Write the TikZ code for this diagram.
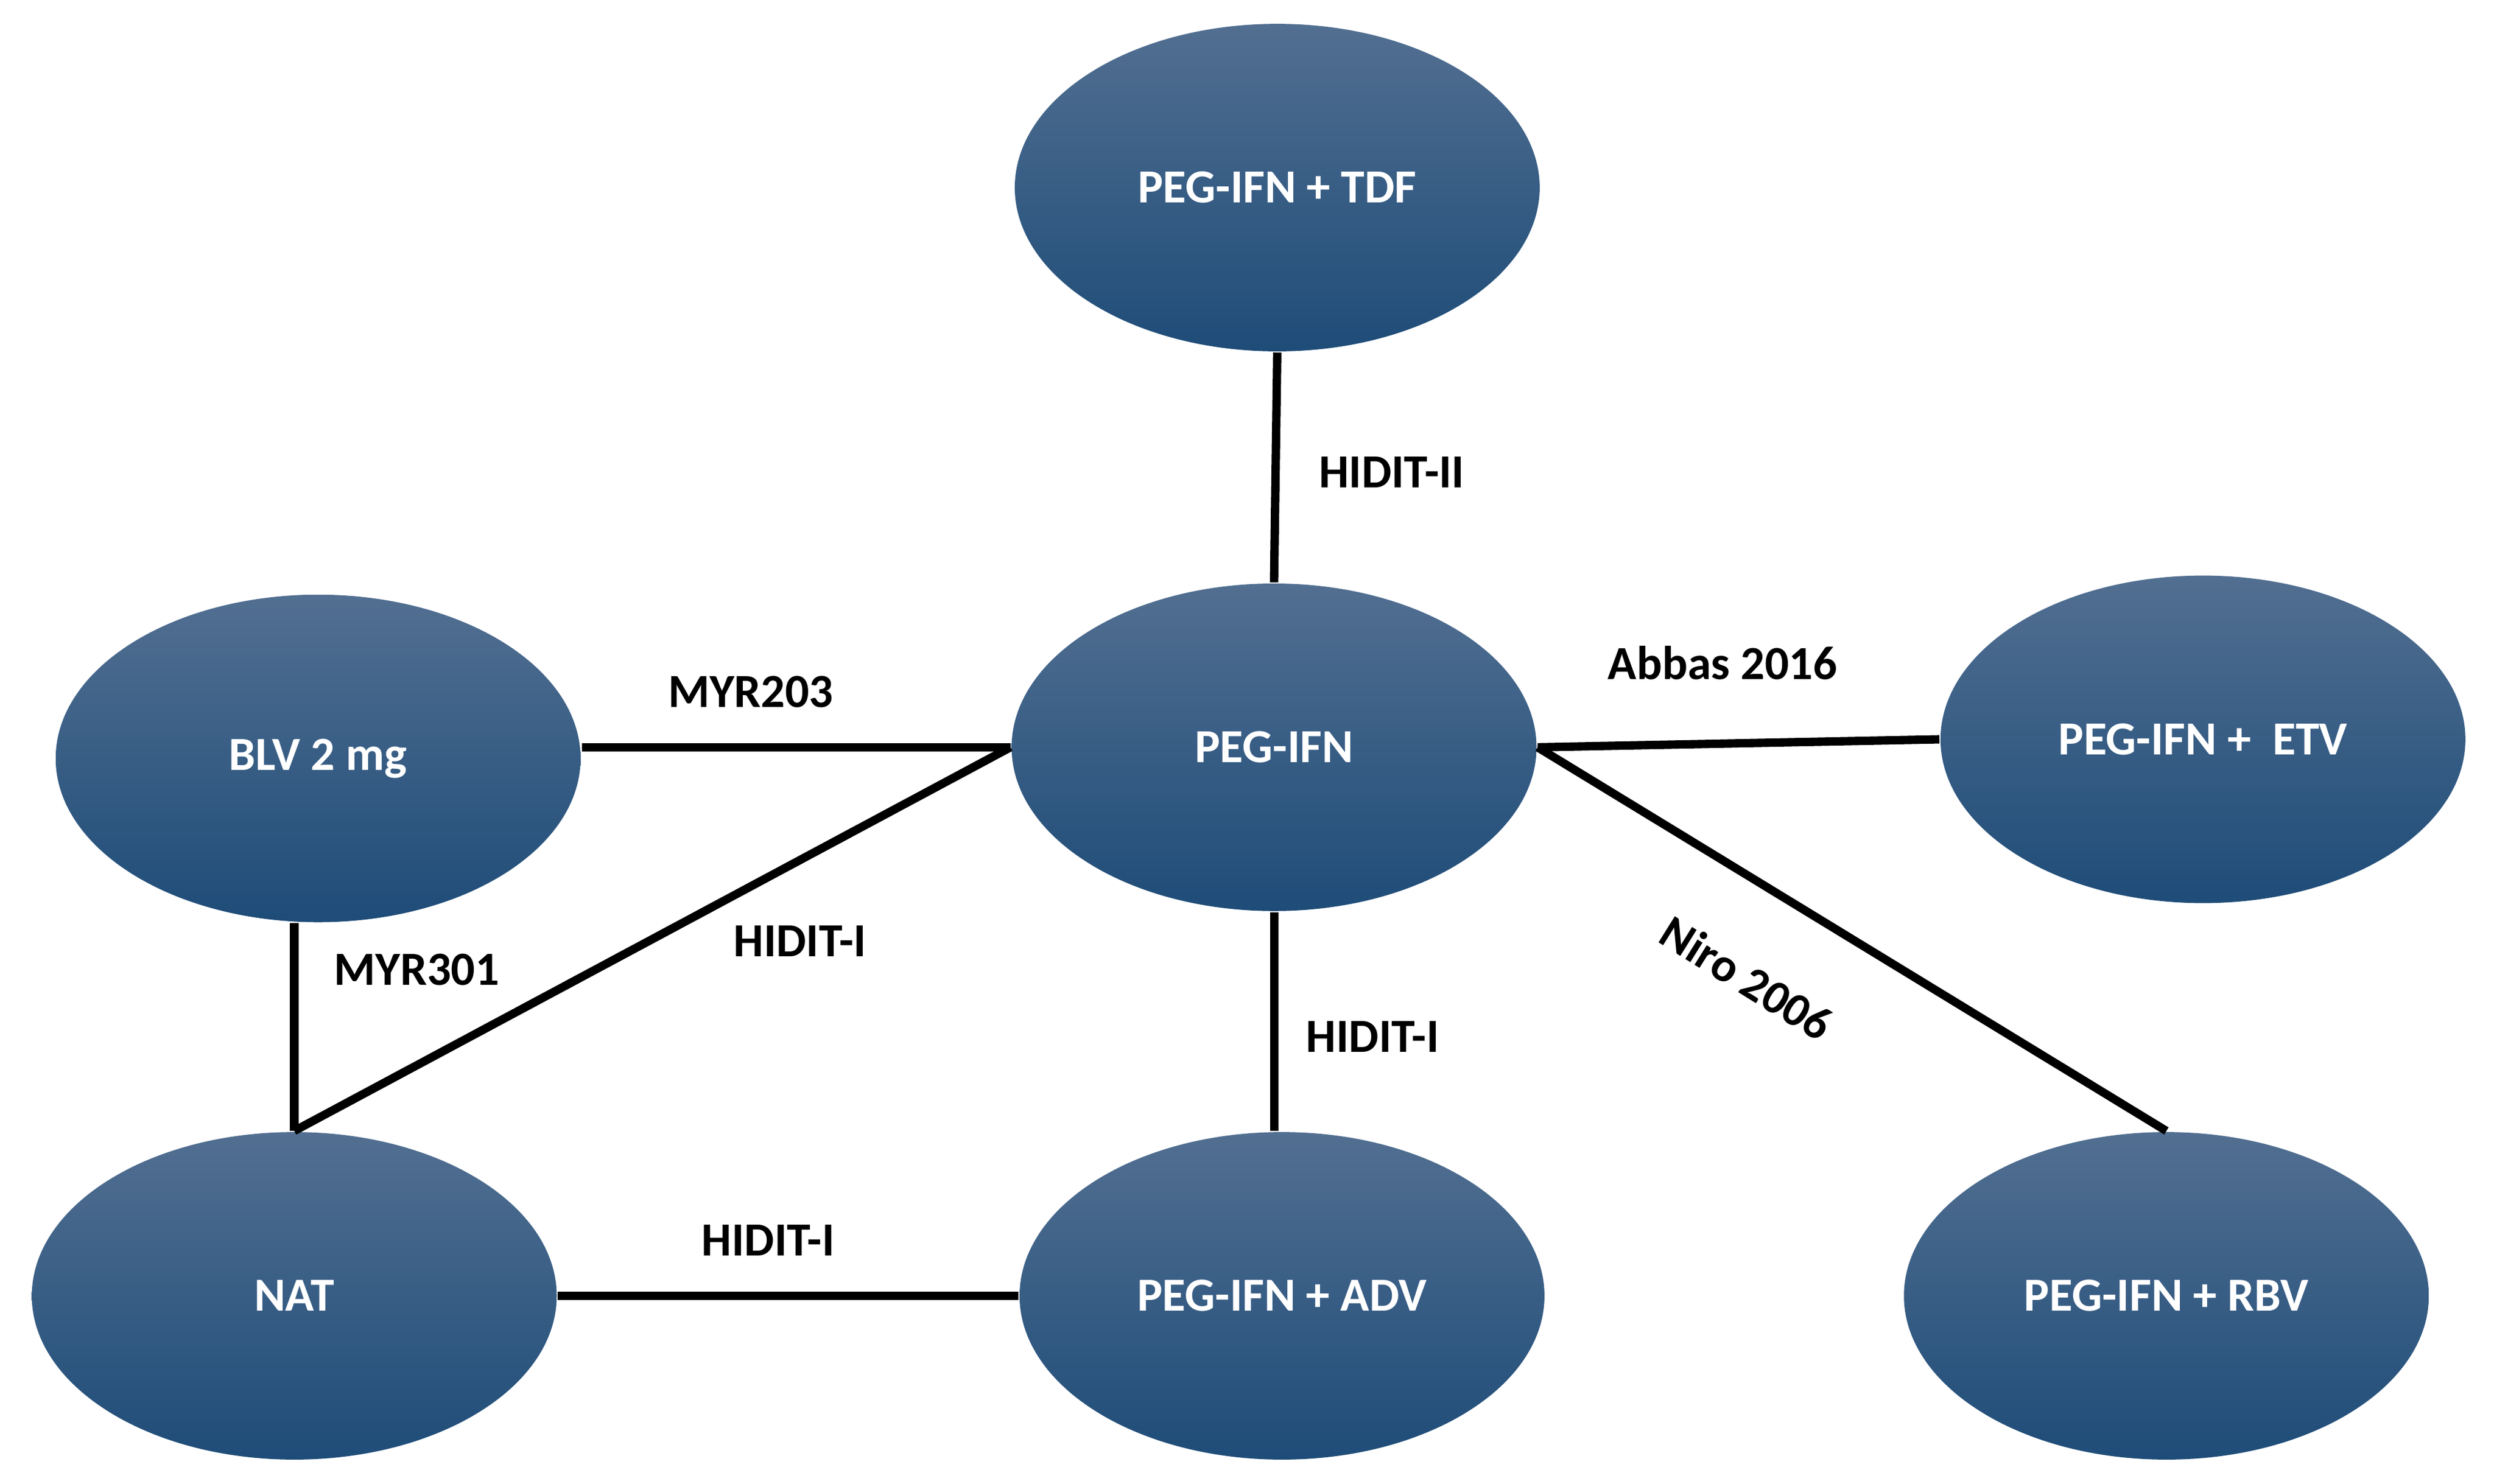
\documentclass[tikz,border=0pt]{standalone}
\usepackage{fontspec}
\setmainfont{Carlito}
\usepackage{xcolor}
\usepackage{tikz}
\usetikzlibrary{shapes.geometric,positioning}
\definecolor{armtop}{RGB}{82, 111, 145}
\definecolor{armbottom}{RGB}{30, 76, 120}

\tikzset{
  arm/.style={ellipse, minimum width=3.3cm, minimum height=2.06cm, inner sep=0pt,
    top color=armtop, bottom color=armbottom, draw=none,
    text=white, font=\fontsize{8.5}{10}\selectfont\bfseries},
  trial/.style={font=\fontsize{8.5}{10}\selectfont\bfseries, text=black},
  link/.style={line width=1.5pt, black}
}

\begin{document}
\begin{tikzpicture}
    \useasboundingbox (0,0) rectangle (15.68,9.33);

    % Treatment arms
    \node[arm] (tdf) at (8.03,8.15) {PEG-IFN + TDF};
    \node[arm] (peg) at (8.01,4.63) {PEG-IFN};
    \node[arm] (blv) at (2.00,4.56) {BLV 2 mg};
    \node[arm] (etv) at (13.85,4.68) {PEG-IFN +\ \ ETV};
    \node[arm] (nat) at (1.85,1.18) {NAT};
    \node[arm] (adv) at (8.06,1.18) {PEG-IFN + ADV};
    \node[arm] (rbv) at (13.62,1.18) {PEG-IFN + RBV};

    % Comparisons
    \draw[link] (tdf.south) -- (peg.north);
    \draw[link] (peg.west -| blv.east) -- (peg.west);
    \draw[link] (blv.south -| nat.north) -- (nat.north);
    \draw[link] (nat.north) -- (peg.west);
    \draw[link] (peg.east) -- (etv.west);
    \draw[link] (peg.east) -- (rbv.north);
    \draw[link] (peg.south) -- (adv.north -| peg.south);
    \draw[link] (nat.east) -- (adv.west);

    % Trial labels
    \node[trial] (l1) at (8.75,6.36) {HIDIT-II};
    \node[trial] (l2) at (4.72,4.98) {MYR203};
    \node[trial] (l3) at (10.83,5.16) {Abbas 2016};
    \node[trial] (l4) at (2.62,3.23) {MYR301};
    \node[trial] (l5) at (5.03,3.41) {HIDIT-I};
    \node[trial] (l6) at (8.63,2.81) {HIDIT-I};
    \node[trial, rotate=-32] (l7) at (10.98,3.18) {Niro 2006};
    \node[trial] (l8) at (4.83,1.53) {HIDIT-I};
\end{tikzpicture}
\end{document}
